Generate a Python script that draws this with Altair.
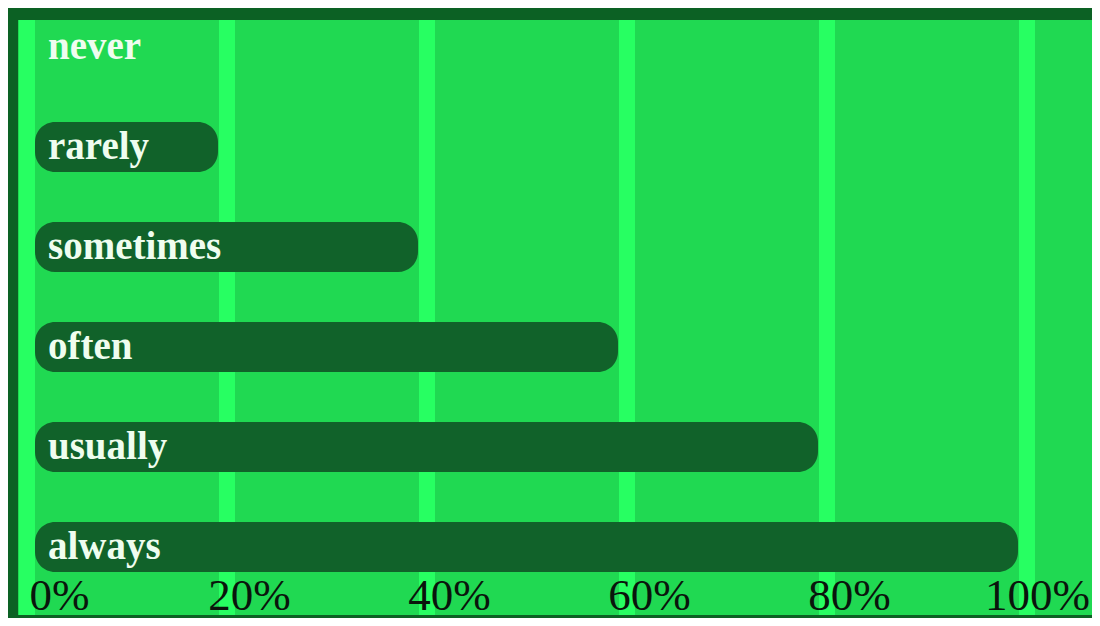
import altair as alt
import pandas as pd

categories = ["never", "rarely", "sometimes", "often", "usually", "always"]
values = [0, 20, 40, 60, 80, 100]
ticks = [0, 20, 40, 60, 80, 100]

df = pd.DataFrame({"cat": categories, "value": values})
tick_df = pd.DataFrame({"tick": ticks})

BG = "#20d952"
BORDER = "#0c6124"
BAR = "#11622a"
GRID = "#27ff62"
FONT = "Liberation Serif"

W, H = 1074, 595
xscale = alt.Scale(domain=[0, 107.4], nice=False, zero=False)
yscale = alt.Scale(domain=categories, range=[-23, 577], paddingInner=0.5, paddingOuter=0.25)

x_axis = alt.Axis(
    values=ticks, title=None, domain=False, ticks=False, grid=False, zindex=2,
    labelExpr="datum.value + '%'", labelFont=FONT, labelFontSize=45,
    labelColor="#0a150c", labelAlign="center", labelBaseline="alphabetic",
    labelPadding=-6, labelFlush=False, labelOverlap=False,
    labelOffset={"condition": [{"test": "datum.value == 0", "value": 41},
                               {"test": "datum.value == 100", "value": 19}],
                 "value": 31},
)

grid = alt.Chart(tick_df).mark_rule(strokeWidth=16, color=GRID, xOffset=9).encode(
    x=alt.X("tick:Q", scale=xscale, axis=x_axis)
)

bars = alt.Chart(df).transform_filter("datum.value > 0").mark_bar(
    color=BAR, cornerRadius=20
).encode(
    x=alt.X("value:Q", scale=xscale, axis=x_axis),
    x2=alt.X2(datum=1.7),
    y=alt.Y("cat:N", scale=yscale, axis=None, sort=categories),
)

labels = alt.Chart(df).mark_text(
    align="left", baseline="alphabetic", dx=30, dy=12,
    font=FONT, fontSize=39, fontWeight="bold", color="#effdef"
).encode(
    x=alt.X(datum=0, scale=xscale),
    y=alt.Y("cat:N", scale=yscale, axis=None, sort=categories),
    text="cat:N",
)

chart = alt.layer(grid, bars, labels).properties(
    width=W, height=H,
    background=BORDER,
    padding={"left": 10, "top": 12, "right": 0, "bottom": 3},
    autosize=alt.AutoSizeParams(type="none"),
).configure_view(fill=BG, stroke=None)

chart.save("out.html", embed_options={"renderer": "svg", "actions": False})
